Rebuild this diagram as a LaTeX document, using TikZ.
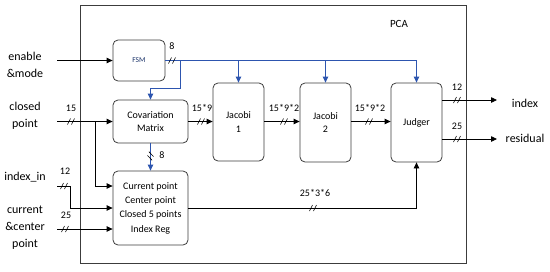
\documentclass[tikz,border=0pt]{standalone}
\usepackage{fontspec}
\setmainfont{Carlito}
\usetikzlibrary{arrows.meta}
\definecolor{busblue}{RGB}{45,85,175}
\definecolor{linegray}{RGB}{60,60,60}
\tikzset{
  blk/.style={draw=linegray, line width=0.8pt, rounded corners=5pt, align=center,
    inner sep=0pt, font=\fontsize{10}{13.5}\selectfont},
  arr/.style={line width=0.8pt, -{Triangle[length=6pt,width=5.5pt]}},
  bluearr/.style={arr, busblue},
  lbl/.style={align=center, font=\fontsize{12}{17}\selectfont},
  num/.style={font=\fontsize{10}{12}\selectfont, inner sep=0pt},
  bus/.pic={\draw[line width=0.6pt] (-3.5,3) -- (-0.5,-3) (0.5,3) -- (3.5,-3);}
}
\begin{document}
\begin{tikzpicture}[x=1pt, y=-1pt]
  \useasboundingbox (0,0) rectangle (550,271);
  % outer block
  \draw[linegray, line width=0.8pt] (80,5) rectangle (466,263);
  \node[font=\fontsize{11}{13}\selectfont] (pca) at (399,24) {PCA};
  % blocks
  \node[blk, minimum width=52pt, minimum height=41pt, font=\fontsize{7.5}{9}\selectfont, text=busblue!60!black] (fsm) at (139,60.5) {FSM};
  \node[blk, minimum width=75pt, minimum height=43pt] (cov) at (150.5,121.5) {Covariation\\Matrix};
  \node[blk, minimum width=51pt, minimum height=78pt] (jac1) at (238.5,122) {Jacobi\\1};
  \node[blk, minimum width=51pt, minimum height=79pt] (jac2) at (325.5,122.5) {Jacobi\\2};
  \node[blk, minimum width=51pt, minimum height=79pt] (judger) at (416.5,122.5) {Judger};
  \node[blk, minimum width=75pt, minimum height=74pt, font=\fontsize{10}{14.3}\selectfont] (reg) at (150.5,208) {Current point\\Center point\\Closed 5 points\\Index Reg};
  % inputs and outputs
  \node[lbl] (enable) at (25,65) {enable\\\&mode};
  \node[lbl] (closed) at (25,116) {closed\\point};
  \node[lbl] (indexin) at (25,177) {index\_in};
  \node[lbl] (current) at (25,228) {current\\\&center\\point};
  \node[lbl] (index) at (525,103) {index};
  \node[lbl] (residual) at (525,138) {residual};
  \coordinate (en) at (57,60.5);
  \coordinate (cp) at (57,121.5);
  \coordinate (ii) at (57,186);
  \coordinate (cc) at (57,229);
  \coordinate (idx) at (497,100);
  \coordinate (res) at (497,139);
  % control bus from FSM
  \draw[arr] (en) -- (fsm.west);
  \draw[bluearr] (fsm.east) -| (judger.north);
  \draw[bluearr] (jac1.north |- fsm.east) -- (jac1.north);
  \draw[bluearr] (jac2.north |- fsm.east) -- (jac2.north);
  \coordinate (fb) at (180,60.5);
  \draw[bluearr] (fb) -- ++(0,27.5) -| (cov.north);
  \draw[bluearr] (cov.south) -- (reg.north);
  \pic at (172,60.5) {bus};
  \node[num] at (172,46) {8};
  \pic[rotate=70] at (150.5,156) {bus};
  \node[num] at (162,155) {8};
  % data path
  \coordinate (cpj) at (95,121.5);
  \draw[arr] (cp) -- (cov.west);
  \draw[arr] (cpj) |- ([yshift=22pt]reg.west);
  \draw[arr] (ii) -- (70,186) |- (reg.west);
  \draw[arr] (cc) -- ([yshift=-21pt]reg.west);
  \draw[arr] (cov.east) -- (jac1.west |- cov.east);
  \draw[arr] (jac1.east |- cov.east) -- (jac2.west |- cov.east);
  \draw[arr] (jac2.east |- cov.east) -- (judger.west |- cov.east);
  \draw[arr] (reg.east) -| (judger.south);
  \draw[arr] (idx -| judger.east) -- (idx);
  \draw[arr] (res -| judger.east) -- (res);
  % bus widths
  \pic at (71,121.5) {bus};   \node[num] at (71,108) {15};
  \pic at (64,186) {bus};     \node[num] at (65,171) {12};
  \pic at (65,229) {bus};     \node[num] at (66,215) {25};
  \pic at (201,121.5) {bus};  \node[num] at (202,108) {15*9};
  \pic at (284,121.5) {bus};  \node[num] at (284,108) {15*9*2};
  \pic at (369,121.5) {bus};  \node[num] at (370,108) {15*9*2};
  \pic at (313,208) {bus};    \node[num] at (315,193) {25*3*6};
  \pic at (457,100) {bus};    \node[num] at (457,87) {12};
  \pic at (457,139) {bus};    \node[num] at (457,126) {25};
\end{tikzpicture}
\end{document}
